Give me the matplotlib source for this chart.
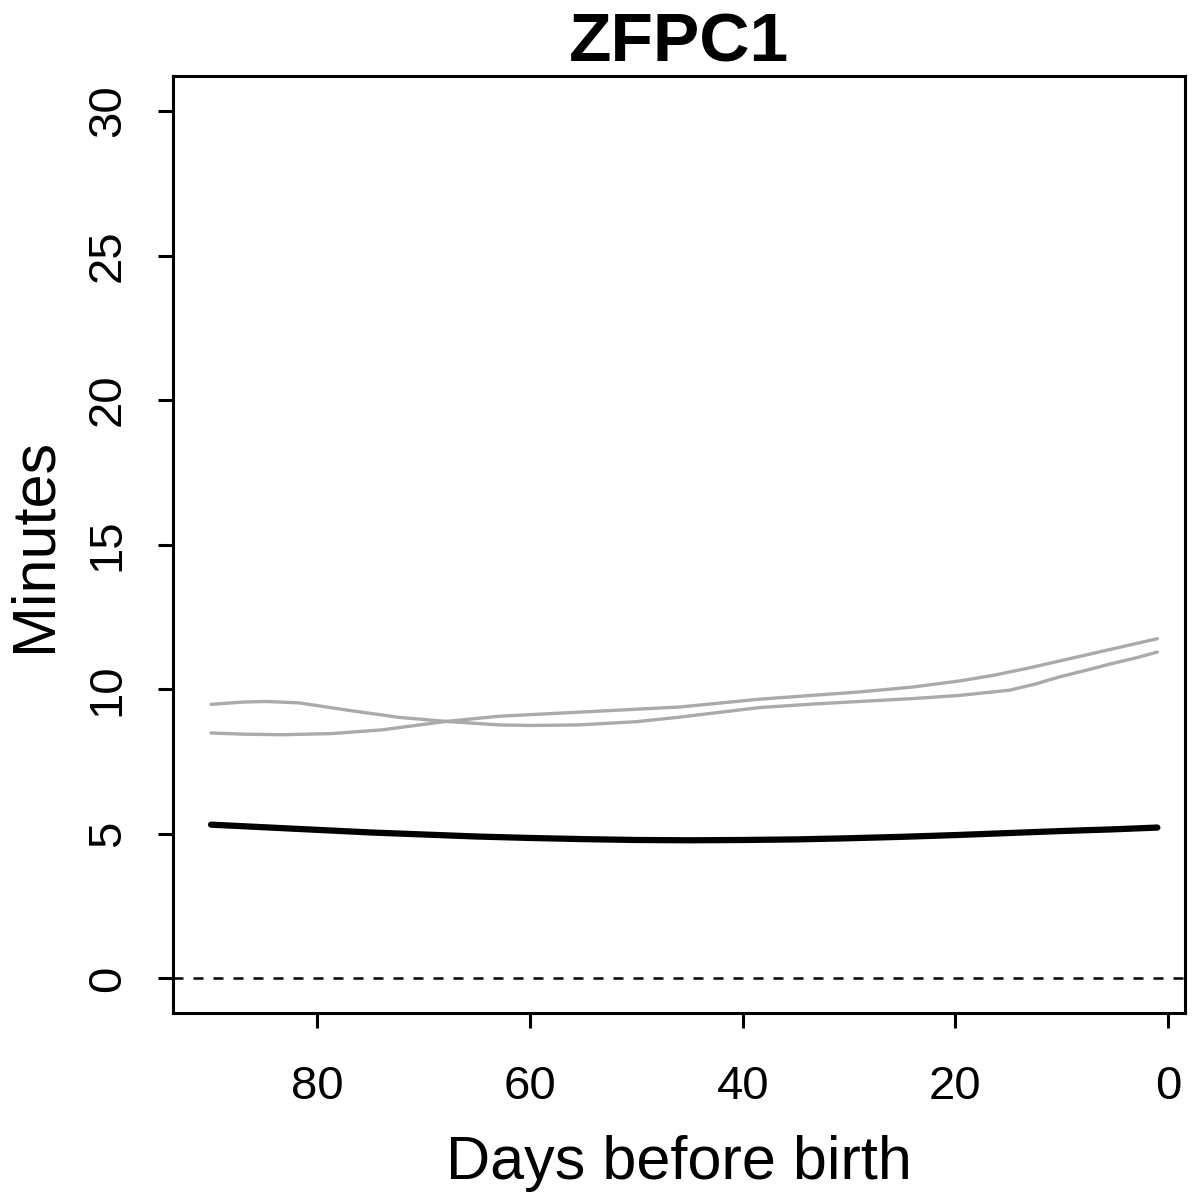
import matplotlib
matplotlib.use("Agg")
import matplotlib.pyplot as plt

plt.rcParams["font.family"] = ["Liberation Sans", "DejaVu Sans"]

# mean component (black)
days_mean = [90, 85, 80, 75, 70, 65, 60, 55, 50, 45, 40, 35, 30, 25, 20, 15, 10, 5, 1]
mean_fpc = [5.32, 5.23, 5.14, 5.05, 4.98, 4.91, 4.86, 4.82, 4.79, 4.78, 4.79,
            4.81, 4.85, 4.90, 4.96, 5.03, 5.10, 5.16, 5.22]

# two grey curves
days_a = [90, 87, 84.8, 81.7, 77, 72.3, 67.9, 62.9, 60, 55.4, 50, 45.9, 38.4,
          33, 29, 24, 19.6, 14.9, 12.5, 10.2, 7.8, 5.5, 3, 1]
curve_a = [9.48, 9.56, 9.58, 9.53, 9.27, 9.03, 8.89, 8.77, 8.75, 8.77, 8.88, 9.04,
           9.37, 9.50, 9.58, 9.68, 9.79, 9.97, 10.18, 10.43, 10.65, 10.87, 11.09, 11.29]
days_b = [90, 87, 83.3, 78.6, 73.9, 67.9, 62.9, 55.4, 45.9, 38.4, 29, 24,
          19.6, 16.5, 13.3, 10.2, 7.1, 4, 1]
curve_b = [8.49, 8.45, 8.43, 8.47, 8.60, 8.89, 9.07, 9.21, 9.39, 9.66, 9.91, 10.08,
           10.29, 10.48, 10.72, 10.98, 11.24, 11.50, 11.75]

x_ticks = [80, 60, 40, 20, 0]
y_ticks = [0, 5, 10, 15, 20, 25, 30]

fig = plt.figure(figsize=(12, 11.92), dpi=100)
ax = fig.add_axes([0.144, 0.150, 0.8435, 0.786])

ax.plot(days_a, curve_a, color="#aaaaaa", lw=2.4, solid_capstyle="round", solid_joinstyle="round")
ax.plot(days_b, curve_b, color="#aaaaaa", lw=2.4, solid_capstyle="round", solid_joinstyle="round")
ax.plot(days_mean, mean_fpc, color="black", lw=4.5, solid_capstyle="round", solid_joinstyle="round")
ax.axhline(0, color="black", lw=1.8, ls=(0, (4, 4)))

ax.set_xlim(93.6, -1.6)
ax.set_ylim(-1.2, 31.2)
ax.set_xticks(x_ticks)
ax.set_yticks(y_ticks)
ax.tick_params(axis="both", direction="out", length=11, width=2.2, labelsize=34)
ax.tick_params(axis="x", pad=26)
ax.tick_params(axis="y", pad=20)
for lab in ax.get_yticklabels():
    lab.set_rotation(90)
    lab.set_va("center")
for s in ax.spines.values():
    s.set_linewidth(2.2)

ax.set_xlabel("Days before birth", fontsize=44, labelpad=19)
ax.set_ylabel("Minutes", fontsize=44, labelpad=16)
ax.set_title("ZFPC1", fontsize=50, fontweight="bold", pad=11)

fig.savefig("out.png", dpi=100)
